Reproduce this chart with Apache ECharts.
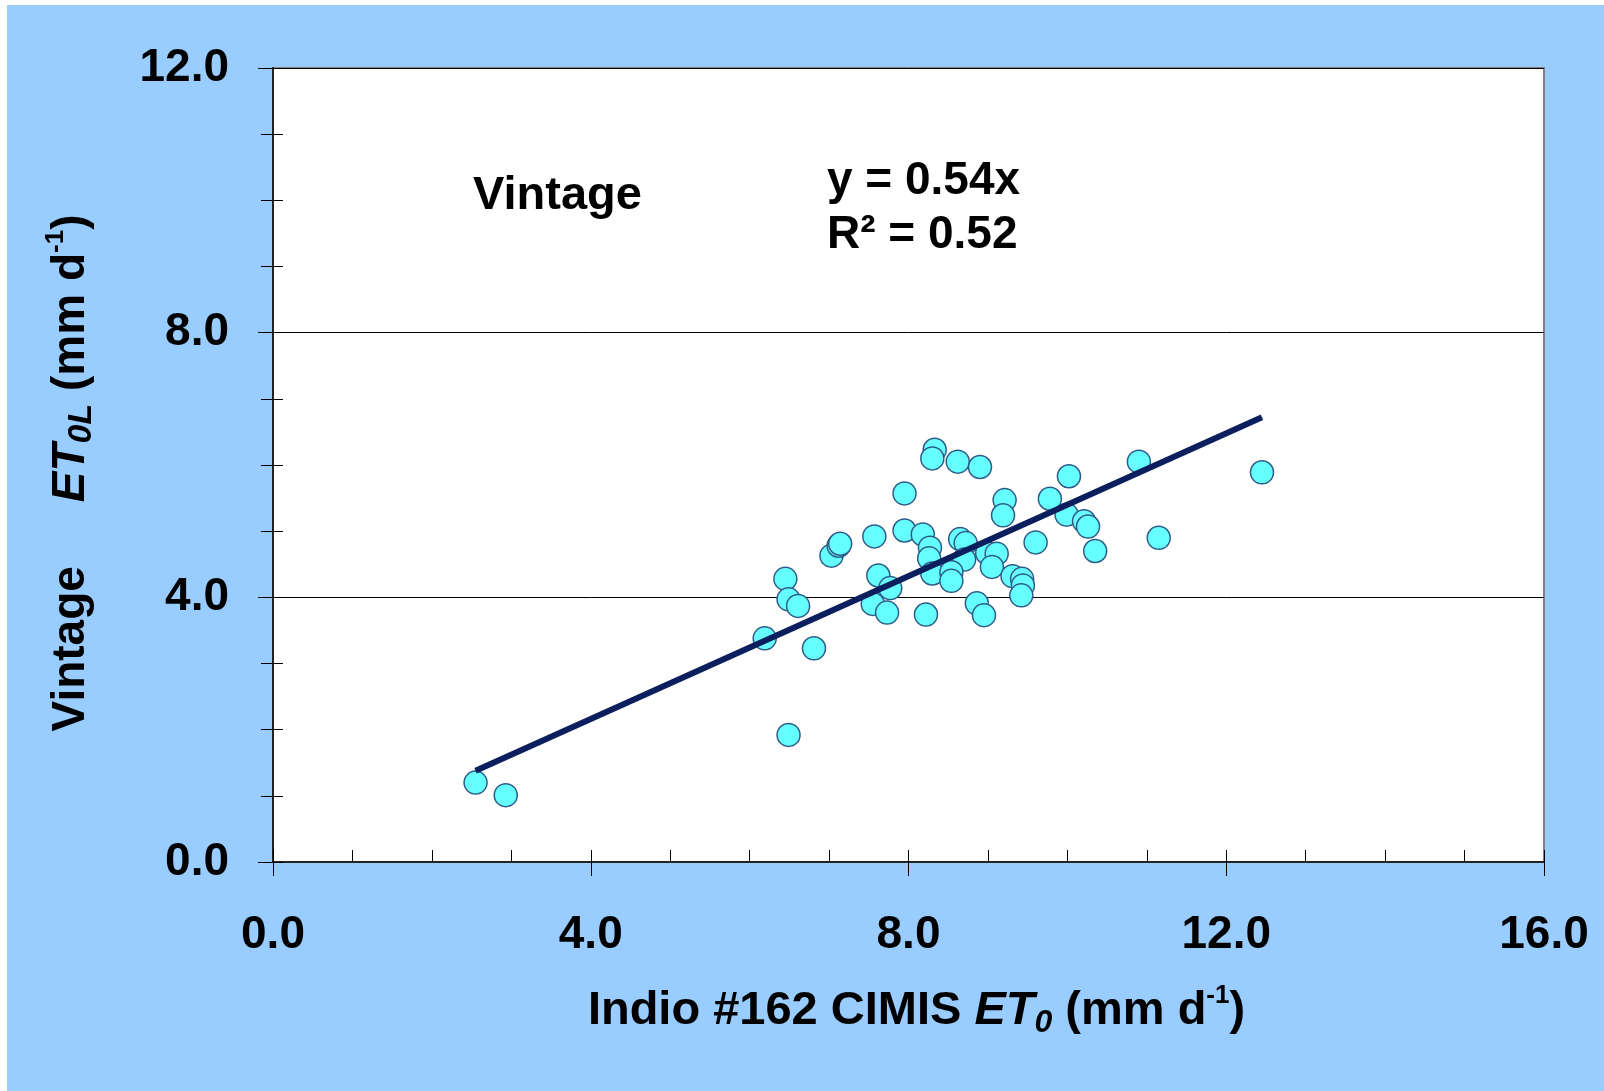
<!DOCTYPE html>
<html><head><meta charset="utf-8">
<script src="https://cdn.jsdelivr.net/npm/echarts@6/dist/echarts.min.js"></script>
<style>
html,body{margin:0;padding:0;background:#fff;width:1604px;height:1091px;overflow:hidden}
#c{position:absolute;left:7px;top:5px;width:1597px;height:1086px;}
</style>
</head><body><div id="c"></div>
<script>
// Indio #162 CIMIS ET0 (x) vs Vintage ET0L (y), mm/day
const xValues = [2.55, 2.93, 6.19, 6.45, 6.49, 6.61, 6.49, 6.81, 7.03, 7.12, 7.14, 7.57, 7.55, 7.62, 7.73, 7.77,
  7.95, 7.95, 8.18, 8.27, 8.26, 8.30, 8.22, 8.33, 8.30, 8.62, 8.90, 8.65, 8.72, 8.70, 8.54, 8.54, 8.86, 8.95,
  8.99, 9.11, 9.05, 9.21, 9.19, 9.31, 9.43, 9.44, 9.42, 9.60, 9.78, 9.99, 10.02, 10.21, 10.26, 10.35, 10.90,
  11.15, 12.45];
const yValues = [1.20, 1.01, 3.38, 4.28, 3.97, 3.87, 1.92, 3.23, 4.63, 4.78, 4.81, 4.92, 3.90, 4.33, 3.77, 4.14,
  5.57, 5.01, 4.95, 4.75, 4.59, 4.36, 3.74, 6.23, 6.10, 6.05, 5.97, 4.88, 4.82, 4.57, 4.38, 4.25, 3.91, 3.73,
  4.67, 4.66, 4.46, 5.47, 5.24, 4.32, 4.28, 4.18, 4.03, 4.83, 5.49, 5.25, 5.83, 5.15, 5.07, 4.70, 6.05,
  4.90, 5.89];
// Linear fit y = 0.54x (R² = 0.52), drawn over the data range
const trendX = [2.55, 12.45];
const trendY = [1.38, 6.72];
const xTicks = ['0.0', '4.0', '8.0', '12.0', '16.0'];
const yTicks = ['0.0', '4.0', '8.0', '12.0'];

const FONT = '"Liberation Sans", Arial, sans-serif';
const scatterData = xValues.map((x, i) => [x, yValues[i]]);
const trendData = trendX.map((x, i) => [x, trendY[i]]);

function richFor(size, subSize) {
  return {
    b: {fontSize: size, fontWeight: 'bold', fontFamily: FONT, color: '#000', lineHeight: 56},
    it: {fontSize: size, fontWeight: 'bold', fontStyle: 'italic', fontFamily: FONT, color: '#000', lineHeight: 56},
    sub: {fontSize: subSize, fontWeight: 'bold', fontStyle: 'italic', fontFamily: FONT, color: '#000', lineHeight: subSize, verticalAlign: 'bottom'},
    sup: {fontSize: 26, fontWeight: 'bold', fontFamily: FONT, color: '#000', lineHeight: 26, verticalAlign: 'top'}
  };
}

const chart = echarts.init(document.getElementById('c'), null, {renderer: 'canvas'});
const axisLabelStyle = {fontSize: 46, fontWeight: 'bold', fontFamily: FONT, color: '#000'};

chart.setOption({
  backgroundColor: '#99CCFF',
  animation: false,
  grid: {left: 266, top: 63, width: 1271, height: 794, show: true, backgroundColor: '#ffffff',
    borderColor: '#808080', borderWidth: 2},
  xAxis: [
    {type: 'value', min: 0, max: 16, interval: 4,
      axisLine: {show: true, onZero: false, lineStyle: {color: '#222', width: 2}},
      axisTick: {show: true, inside: false, length: 14, lineStyle: {color: '#000', width: 1}},
      splitLine: {show: false},
      axisLabel: Object.assign({margin: 50, formatter: v => xTicks[Math.round(v / 4)]}, axisLabelStyle),
      name: '{b|Indio #162 CIMIS }{it|ET}{sub|0}{b| (mm d}{sup|-1}{b|)}',
      nameLocation: 'middle', nameGap: 121,
      nameTextStyle: {rich: richFor(47, 32), lineHeight: 56, padding: [0, 0, 0, 16]}
    },
    {type: 'value', min: 0, max: 16, interval: 1, position: 'bottom',
      axisLine: {show: false}, splitLine: {show: false}, axisLabel: {show: false},
      axisTick: {show: true, inside: true, length: 12, lineStyle: {color: '#000', width: 1}}}
  ],
  yAxis: [
    {type: 'value', min: 0, max: 12, interval: 4,
      axisLine: {show: true, onZero: false, lineStyle: {color: '#222', width: 2}},
      axisTick: {show: true, inside: false, length: 15, lineStyle: {color: '#000', width: 1}},
      minorTick: {show: true, splitNumber: 4, length: 12, lineStyle: {color: '#000', width: 1}},
      splitLine: {show: true, lineStyle: {color: '#000', width: 1}},
      axisLabel: Object.assign({margin: 44, padding: [6, 0, 0, 0], formatter: v => yTicks[Math.round(v / 4)]}, axisLabelStyle),
      name: '{b|Vintage     }{it|ET}{sub|0L}{b| (mm d}{sup|-1}{b|)}',
      nameLocation: 'middle', nameRotate: 90, nameGap: 174,
      nameTextStyle: {rich: richFor(46, 34), lineHeight: 56, padding: [0, 16, 0, 0]}
    },
    {type: 'value', min: 0, max: 12, interval: 1, position: 'left',
      axisLine: {show: false}, splitLine: {show: false}, axisLabel: {show: false},
      axisTick: {show: true, inside: true, length: 10, lineStyle: {color: '#000', width: 1}}}
  ],
  graphic: [
    {type: 'text', left: 466, top: 168, style: {text: 'Vintage', font: 'bold 47px ' + FONT, fill: '#000'}},
    {type: 'text', left: 820, top: 153, style: {text: 'y = 0.54x', font: 'bold 46px ' + FONT, fill: '#000'}},
    {type: 'text', left: 820, top: 207, style: {text: 'R² = 0.52', font: 'bold 46px ' + FONT, fill: '#000'}}
  ],
  series: [
    {type: 'scatter', xAxisIndex: 0, yAxisIndex: 0, data: scatterData, symbol: 'circle', symbolSize: 23,
      itemStyle: {color: '#66FFFF', borderColor: '#2E5C8A', borderWidth: 1.5, opacity: 1}, z: 3},
    {type: 'line', xAxisIndex: 0, yAxisIndex: 0, data: trendData, symbol: 'none',
      lineStyle: {color: '#0B1F5E', width: 6}, z: 4}
  ]
});
</script></body></html>
